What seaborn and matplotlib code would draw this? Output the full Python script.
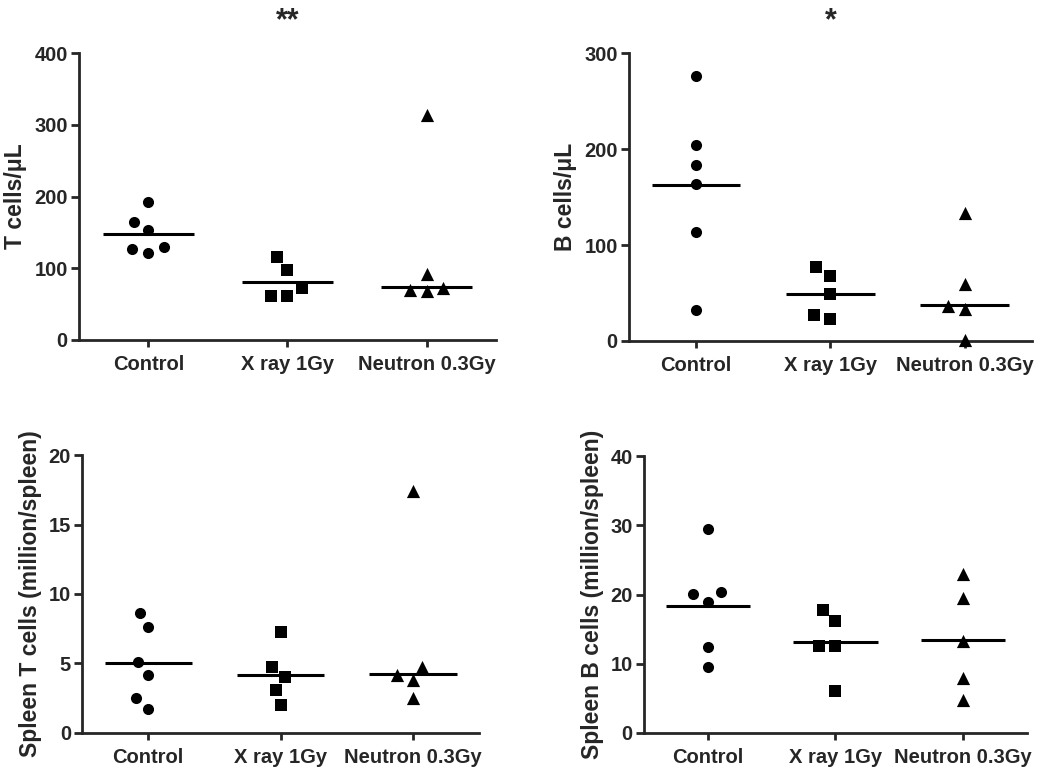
import numpy as np
import pandas as pd
import matplotlib
matplotlib.use("Agg")
import matplotlib.pyplot as plt
from matplotlib.collections import PathCollection
import seaborn as sns

# --------------------------------------------------
# DATA
# --------------------------------------------------
groups = ["Control", "X ray 1Gy", "Neutron 0.3Gy"]
markers = ["o", "s", "^"]

# blood T cells / uL
control_t = [193, 164, 153, 129, 121, 127]
xray_t = [115, 98, 72, 62, 62]
neutron_t = [313, 92, 72, 68, 70]
line_t = [148, 81, 74]

# blood B cells / uL
control_b = [276, 204, 183, 164, 114, 32]
xray_b = [77, 68, 49, 27, 23]
neutron_b = [133, 59, 36, 33, 1]
line_b = [163, 49, 37]

# spleen T cells (million/spleen)
control_st = [8.6, 7.6, 5.1, 4.2, 2.5, 1.7]
xray_st = [7.3, 4.75, 4.05, 3.1, 2.0]
neutron_st = [17.4, 4.75, 4.2, 3.8, 2.5]
line_st = [5.0, 4.2, 4.25]

# spleen B cells (million/spleen)
control_sb = [29.5, 20.3, 20.1, 18.9, 12.4, 9.5]
xray_sb = [17.8, 16.2, 12.6, 12.6, 6.0]
neutron_sb = [23.0, 19.5, 13.3, 7.9, 4.8]
line_sb = [18.4, 13.1, 13.4]

# --------------------------------------------------
# STYLE
# --------------------------------------------------
sns.set_style("ticks")
plt.rcParams["font.family"] = ["Liberation Sans", "DejaVu Sans"]
plt.rcParams["font.weight"] = "bold"
plt.rcParams["axes.labelweight"] = "bold"

SWARM_SIZE = 11.5   # spacing used for the swarm layout (pt)
MARK_SIZE = {"o": 8.0, "s": 8.0, "^": 9.5}


def make_frame(values):
    rows = []
    for g, vals in zip(groups, values):
        for v in vals:
            rows.append({"group": g, "value": v})
    return pd.DataFrame(rows)


def draw_panel(ax, values, lines, ylabel, ymax, ystep, stars=None):
    df = make_frame(values)
    sns.swarmplot(
        data=df,
        x="group",
        y="value",
        order=groups,
        color="black",
        size=SWARM_SIZE,
        linewidth=0,
        ax=ax,
    )
    # centre lines
    for i, v in enumerate(lines):
        ax.hlines(v, i - 0.33, i + 0.33, color="black", linewidth=2.2, zorder=2)

    ax.set_xlim(-0.5, 2.5)
    ax.set_ylim(0, ymax)
    ax.set_yticks(np.arange(0, ymax + ystep / 2, ystep))
    ax.set_xlabel("")
    ax.set_ylabel(ylabel, fontsize=16.5, fontweight="bold", labelpad=5)
    ax.tick_params(axis="y", direction="out", length=6, width=2, labelsize=14.5, pad=2)
    ax.tick_params(axis="x", direction="out", length=5, width=2, labelsize=14.5, pad=6)
    for lab in ax.get_xticklabels() + ax.get_yticklabels():
        lab.set_fontweight("bold")
    for s in ["left", "bottom"]:
        ax.spines[s].set_linewidth(2)
    sns.despine(ax=ax)

    if stars:
        ax.text(1, 1.11, stars, transform=ax.get_xaxis_transform(),
                ha="center", va="center", fontsize=22, fontweight="bold")


def restyle_swarms(ax):
    # keep seaborn's swarm positions, redraw with GraphPad-like markers per group
    colls = [c for c in ax.collections
             if isinstance(c, PathCollection) and len(c.get_offsets()) > 0]
    pts = np.vstack([np.asarray(c.get_offsets()) for c in colls])
    for c in colls:
        c.remove()
    for i, m in enumerate(markers):
        sel = pts[np.round(pts[:, 0]).astype(int) == i]
        ax.scatter(sel[:, 0], sel[:, 1], marker=m, s=MARK_SIZE[m] ** 2,
                   color="black", linewidths=0, clip_on=False, zorder=3)


# --------------------------------------------------
# FIGURE
# --------------------------------------------------
fig = plt.figure(figsize=(10.5, 7.75), dpi=100)

ax1 = fig.add_axes([0.0752, 0.5613, 0.3972, 0.3703])
ax2 = fig.add_axes([0.5990, 0.5600, 0.3838, 0.3716])
ax3 = fig.add_axes([0.0781, 0.0542, 0.3781, 0.3587])
ax4 = fig.add_axes([0.6133, 0.0542, 0.3648, 0.3574])

draw_panel(ax1, [control_t, xray_t, neutron_t], line_t, "T cells/\u03bcL", 400, 100, "**")
draw_panel(ax2, [control_b, xray_b, neutron_b], line_b, "B cells/\u03bcL", 300, 100, "*")
draw_panel(ax3, [control_st, xray_st, neutron_st], line_st,
           "Spleen T cells (million/spleen)", 20, 5)
draw_panel(ax4, [control_sb, xray_sb, neutron_sb], line_sb,
           "Spleen B cells (million/spleen)", 40, 10)

fig.canvas.draw()
for ax in [ax1, ax2, ax3, ax4]:
    restyle_swarms(ax)

fig.savefig("out.png", dpi=100, facecolor="white")
print("Saved: out.png")
